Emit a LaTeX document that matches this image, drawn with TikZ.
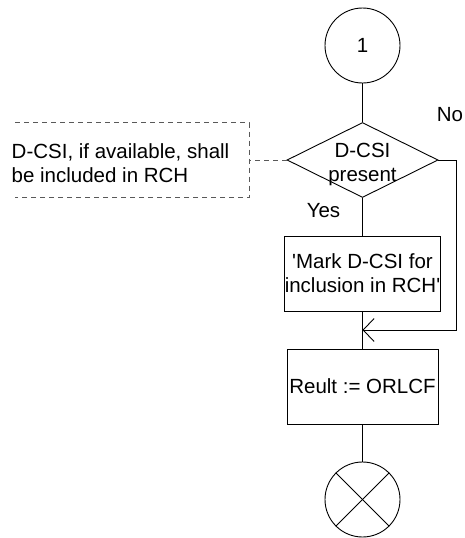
\documentclass[tikz,border=0pt]{standalone}
\usepackage{fontspec}
\setmainfont{Liberation Sans}
\usetikzlibrary{shapes.geometric,arrows.meta}
\begin{document}
\begin{tikzpicture}[x=1pt,y=-1pt,
  every node/.style={font=\fontsize{20.5}{24}\selectfont},
  flowline/.style={draw=black,line width=0.9pt},
  conn/.style={draw=black,line width=0.9pt,shape=circle,minimum size=75pt,inner sep=0pt},
  decision/.style={draw=black,line width=0.9pt,shape=diamond,aspect=2,minimum width=151pt,minimum height=75pt,inner sep=0pt},
  taskbox/.style={draw=black,line width=0.9pt,shape=rectangle,minimum width=151pt,minimum height=75pt,inner sep=0pt,align=center},
  commentline/.style={draw=black!65,line width=0.9pt,dash pattern=on 5pt off 4pt},
  lbl/.style={inner sep=0pt}
]
\useasboundingbox (0,0) rectangle (465,538);

\node[conn] (start) at (362.5,45.5) {1};
\node[decision] (dec) at (362.5,160) {};
\node[lbl,align=center] (dectxt) at (362.5,164) {D-CSI\\present};
\node[taskbox] (box1) at (362.5,273.5) {\textquotesingle Mark D-CSI for\\inclusion in RCH\textquotesingle};
\node[taskbox] (box2) at (362.5,386.5) {Reult := ORLCF};
\node[conn] (stop) at (362.5,499.5) {};

\node[lbl] (yes) at (323.5,210.5) {Yes};
\node[lbl] (no) at (450,115) {No};

\node[lbl,anchor=west,align=left] (cmt) at (11.5,163) {D-CSI, if available, shall\\be included in RCH};

\coordinate (noturn) at (456.5,160);
\coordinate (merge) at (362.5,330);
\coordinate (ctop) at (15,122.7);
\coordinate (ctr) at (249,122.7);
\coordinate (cmid) at (249,160);
\coordinate (cbr) at (249,197.7);
\coordinate (cbot) at (15,197.7);

\draw[flowline] (start.south) -- (dec.north);
\draw[flowline] (dec.south) -- (box1.north);
\draw[flowline] (box1.south) -- (box2.north);
\draw[flowline] (box2.south) -- (stop.north);
\draw[flowline,-{Straight Barb[length=11pt,width=23pt]}] (dec.east) -- (noturn) |- (merge);
\draw[flowline] (stop.north west) -- (stop.south east);
\draw[flowline] (stop.north east) -- (stop.south west);

\draw[commentline] (dec.west) -- (cmid);
\draw[commentline] (ctop) -- (ctr) -- (cbr) -- (cbot);
\end{tikzpicture}
\end{document}
